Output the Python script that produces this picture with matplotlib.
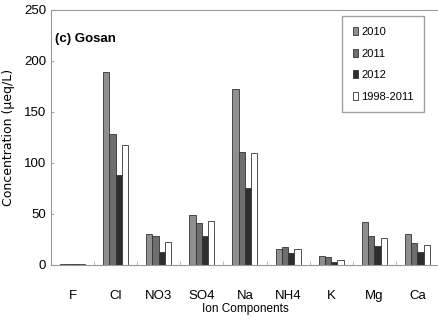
import numpy as np
import matplotlib
matplotlib.use("Agg")
import matplotlib.pyplot as plt
from matplotlib.patches import Patch

ions = ["F", "Cl", "NO3", "SO4", "Na", "NH4", "K", "Mg", "Ca"]
y2010 = [1, 189, 30, 49, 172, 16, 9, 42, 30]
y2011 = [1, 128, 28, 41, 111, 17, 8, 28, 21]
y2012 = [1, 88, 13, 28, 75, 12, 3, 18, 13]
y_avg = [1, 118, 22, 43, 110, 16, 5, 26, 19]

series = [
    ("2010", y2010, "#8f8f8f"),
    ("2011", y2011, "#6e6e6e"),
    ("2012", y2012, "#2e2e2e"),
    ("1998-2011", y_avg, "#ffffff"),
]

plt.rcParams["font.family"] = ["Liberation Sans Narrow", "Liberation Sans", "DejaVu Sans"]

fig = plt.figure(figsize=(4.39, 3.21), dpi=100)
ax = fig.add_axes([0.116, 0.175, 0.884, 0.794])

x = np.arange(len(ions))
w = 0.145
for i, (name, vals, color) in enumerate(series):
    ax.bar(x + (i - 1.5) * w, vals, w, color=color, edgecolor="#333333",
           linewidth=0.6, label=name)

ax.set_xlim(-0.5, len(ions) - 0.5)
ax.set_ylim(0, 250)
ax.set_yticks([0, 50, 100, 150, 200, 250])
ax.set_xticks(x)
ax.set_xticklabels(ions, fontsize=9.5)
ax.set_xticks(np.arange(len(ions) + 1) - 0.5, minor=True)
ax.tick_params(axis="x", which="major", length=0, pad=18)
ax.tick_params(axis="x", which="minor", direction="in", length=3, color="#aaaaaa")
ax.tick_params(axis="y", direction="in", length=2, color="#aaaaaa", labelsize=9.5)

for side in ["left", "bottom", "top"]:
    ax.spines[side].set_color("#999999")
ax.spines["right"].set_visible(False)

ax.set_xlabel("Ion Components", fontsize=8.5, labelpad=1)
ax.set_ylabel("Concentration (μeq/L)", fontsize=9, family=["DejaVu Sans"],
              labelpad=6)
ax.text(0.01, 0.875, "(c) Gosan", transform=ax.transAxes, fontsize=9.5,
        fontweight="bold", family=["Liberation Sans", "DejaVu Sans"])

handles = [Patch(facecolor=c, edgecolor="#333333", linewidth=0.6)
           for _, _, c in series]
ax.legend(handles, [s[0] for s in series], loc="upper right",
          bbox_to_anchor=(0.962, 0.975), borderaxespad=0, fontsize=8,
          handlelength=0.45, handleheight=0.75, handletextpad=0.3,
          labelspacing=1.05, fancybox=False, edgecolor="#888888",
          borderpad=0.95)

fig.savefig("out.png", dpi=100)
